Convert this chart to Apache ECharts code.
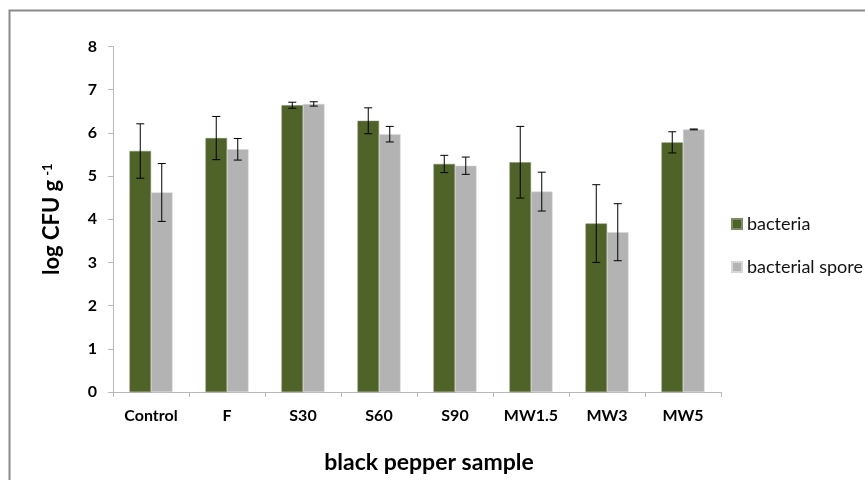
<!DOCTYPE html>
<html>
<head>
<meta charset="utf-8">
<script src="https://cdn.jsdelivr.net/npm/echarts@6/dist/echarts.min.js"></script>
<style>html,body{margin:0;padding:0;background:#fff}#c{width:865px;height:480px}</style>
</head>
<body>
<div id="c"></div>
<script>
const categories = ['Control', 'F', 'S30', 'S60', 'S90', 'MW1.5', 'MW3', 'MW5'];
const bacteria = [5.58, 5.88, 6.64, 6.28, 5.28, 5.32, 3.90, 5.78];
const bacteriaErr = [0.63, 0.50, 0.07, 0.30, 0.20, 0.83, 0.90, 0.245];
const spore = [4.62, 5.62, 6.67, 5.97, 5.24, 4.64, 3.70, 6.08];
const sporeErr = [0.67, 0.25, 0.05, 0.18, 0.20, 0.45, 0.66, 0.01];
const yTicks = [0, 1, 2, 3, 4, 5, 6, 7, 8];

const BAR_W = 21.5;
const FONT = 'Lato';

function errSeries(name, vals, errs, side) {
  return {
    type: 'custom',
    name: name + ' err',
    z: 5,
    silent: true,
    data: vals.map((v, i) => [i, v - errs[i], v + errs[i]]),
    renderItem: function (params, api) {
      const i = api.value(0);
      const lo = api.coord([i, api.value(1)]);
      const hi = api.coord([i, api.value(2)]);
      const x = lo[0] + side * BAR_W / 2;
      const cap = 4;
      const st = { stroke: '#000', lineWidth: 1 };
      return {
        type: 'group',
        children: [
          { type: 'line', shape: { x1: x, y1: lo[1], x2: x, y2: hi[1] }, style: st },
          { type: 'line', shape: { x1: x - cap, y1: hi[1], x2: x + cap, y2: hi[1] }, style: st },
          { type: 'line', shape: { x1: x - cap, y1: lo[1], x2: x + cap, y2: lo[1] }, style: st }
        ]
      };
    }
  };
}

const chart = echarts.init(document.getElementById('c'));
chart.setOption({
  backgroundColor: '#fff',
  animation: false,
  textStyle: { fontFamily: FONT },
  graphic: [{
    type: 'rect', left: 7, top: 8, z: -10,
    shape: { x: 0, y: 0, width: 900, height: 520 },
    style: { fill: 'none', stroke: '#8a8a8a', lineWidth: 2 }
  }],
  grid: { left: 113, right: 144, top: 46.5, bottom: 88 },
  legend: {
    orient: 'vertical', left: 726, top: 210,
    itemWidth: 10, itemHeight: 10, itemGap: 25,
    icon: 'rect',
    data: ['bacteria', 'bacterial spore'],
    textStyle: { fontFamily: FONT, fontSize: 18, color: '#111', padding: [0, 0, 0, 0] }
  },
  xAxis: {
    type: 'category',
    data: categories,
    axisLine: { lineStyle: { color: '#b8b8b8', width: 1 } },
    axisTick: { show: true, length: 5, lineStyle: { color: '#b8b8b8' } },
    axisLabel: { fontFamily: FONT, fontWeight: 'bold', fontSize: 16, color: '#000', margin: 16 },
    name: 'black pepper sample',
    nameLocation: 'middle',
    nameGap: 59,
    nameTextStyle: { fontFamily: FONT, fontWeight: 'bold', fontSize: 23, color: '#000', padding: [0, 0, 0, 24] }
  },
  yAxis: {
    type: 'value',
    min: yTicks[0], max: yTicks[yTicks.length - 1], interval: 1,
    splitLine: { show: false },
    axisLine: { show: true, lineStyle: { color: '#b8b8b8', width: 1 } },
    axisTick: { show: true, length: 5, lineStyle: { color: '#b8b8b8' } },
    axisLabel: { fontFamily: FONT, fontWeight: 'bold', fontSize: 16, color: '#000', margin: 16 },
    name: '{a|log CFU g}{s|-1}',
    nameLocation: 'middle',
    nameRotate: 90,
    nameGap: 50,
    nameTextStyle: {
      rich: {
        a: { fontFamily: FONT, fontWeight: 'bold', fontSize: 22, color: '#000' },
        s: { fontFamily: FONT, fontWeight: 'bold', fontSize: 13, color: '#000', verticalAlign: 'top', padding: [0, 0, 4, 4] }
      }
    }
  },
  series: [
    {
      name: 'bacteria', type: 'bar', data: bacteria, barWidth: BAR_W, barGap: '0%',
      itemStyle: { color: '#4F6228', borderColor: '#7d8a66', borderWidth: 0.5 }
    },
    {
      name: 'bacterial spore', type: 'bar', data: spore, barWidth: BAR_W,
      itemStyle: { color: '#B3B3B3', borderColor: '#d6d6d6', borderWidth: 0.5 }
    },
    errSeries('bacteria', bacteria, bacteriaErr, -1),
    errSeries('bacterial spore', spore, sporeErr, 1)
  ]
});
</script>
</body>
</html>
